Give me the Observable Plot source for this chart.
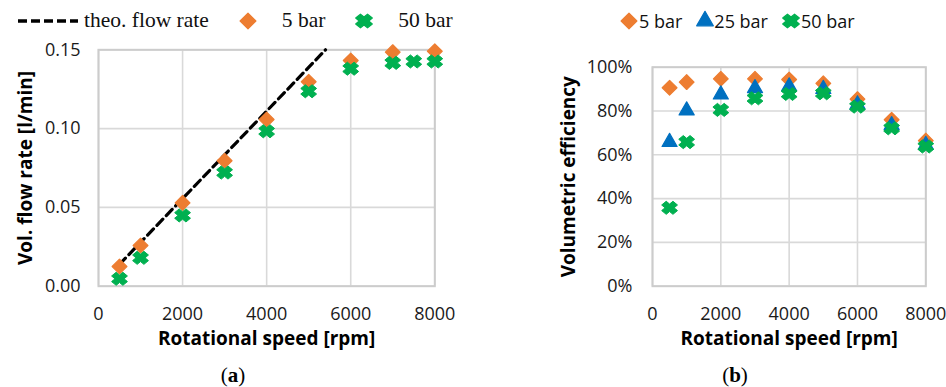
<!DOCTYPE html>
<html>
<head>
<meta charset="utf-8">
<script src="https://cdn.jsdelivr.net/npm/d3@7"></script>
<script src="https://cdn.jsdelivr.net/npm/@observablehq/plot@0.6"></script>
<style>
  html, body { margin: 0; padding: 0; background: #fff; }
  #wrap { position: relative; width: 946px; height: 387px; overflow: hidden; font-family: "Open Sans", sans-serif; }
  .panel { position: absolute; top: 0; width: 473px; height: 387px; }
  .panel svg.plot { position: absolute; left: 0; top: 0; }
  .legend { position: absolute; display: flex; align-items: center; white-space: nowrap; }
  .legend .item { display: flex; align-items: center; }
  .caption { position: absolute; font-family: "Liberation Serif", serif; font-size: 21px; transform: translateX(-50%); }
</style>
</head>
<body>
<div id="wrap">
  <div class="panel" id="pa" style="left:0"></div>
  <div class="panel" id="pb" style="left:473px"></div>
</div>
<script>
// ---------- data (a) ----------
const rpmA5   = [500, 1000, 2000, 3000, 4000, 5000, 6000, 7000, 8000];
const flowA5  = [0.0125, 0.0258, 0.0529, 0.0796, 0.1058, 0.1297, 0.1432, 0.1485, 0.1491];
const rpmA50  = [500, 1000, 2000, 3000, 4000, 5000, 6000, 7000, 7500, 8000];
const flowA50 = [0.0047, 0.0180, 0.0449, 0.0721, 0.0983, 0.1237, 0.1380, 0.1417, 0.1426, 0.1426];
const rpmTheo  = [500, 5400];
const flowTheo = [0.0139, 0.15];
const yTicksA  = [0, 0.05, 0.10, 0.15];
const xTicks   = [0, 2000, 4000, 6000, 8000];

// ---------- data (b) ----------
const rpmB  = [500, 1000, 2000, 3000, 4000, 5000, 6000, 7000, 8000];
const eff5  = [0.906, 0.932, 0.947, 0.947, 0.944, 0.926, 0.854, 0.760, 0.665];
const eff25 = [0.658, 0.802, 0.875, 0.904, 0.912, 0.900, 0.830, 0.735, 0.645];
const eff50 = [0.358, 0.658, 0.805, 0.858, 0.878, 0.881, 0.820, 0.721, 0.638];
const yTicksB = [0, 0.2, 0.4, 0.6, 0.8, 1.0];

const ORANGE = "#ED7D31", BLUE = "#0070C0", GREEN = "#00B050";
const GRID = "#d9d9d9";
const TICKFS = 18, TITLEFS = 19;

// custom filled "X" symbol (Excel style)
const symbolX = {
  draw(ctx, size) {
    const r = Math.sqrt(size / Math.PI);
    const a = r * 0.45, L = r * 1.12;
    const pts = [[a,-L],[a,-a],[L,-a],[L,a],[a,a],[a,L],[-a,L],[-a,a],[-L,a],[-L,-a],[-a,-a],[-a,-L]]
      .map(([x, y]) => [1.15 * (x - y) / Math.SQRT2, 0.95 * (x + y) / Math.SQRT2]);
    ctx.moveTo(pts[0][0], pts[0][1]);
    for (let i = 1; i < pts.length; i++) ctx.lineTo(pts[i][0], pts[i][1]);
    ctx.closePath();
  }
};

const toRows = (xs, ys) => xs.map((x, i) => ({x, y: ys[i]}));

// ---------- panel (a) ----------
const plotA = Plot.plot({
  width: 473, height: 350,
  marginLeft: 98, marginRight: 38.7, marginTop: 49.3, marginBottom: 64.3,
  style: {fontFamily: "'Open Sans', sans-serif", fontSize: TICKFS + "px", color: "#1a1a1a", background: "transparent", overflow: "visible"},
  x: {domain: [0, 8000], ticks: xTicks},
  y: {domain: [0, 0.15], ticks: yTicksA},
  marks: [
    Plot.gridX(xTicks, {stroke: GRID, strokeOpacity: 1, strokeWidth: 1.6}),
    Plot.gridY(yTicksA, {stroke: GRID, strokeOpacity: 1, strokeWidth: 1.6}),
    Plot.frame({stroke: "#cccccc", strokeWidth: 2}),
    Plot.axisX(xTicks, {tickSize: 0, tickPadding: 21, fontSize: TICKFS, label: null, tickFormat: d3.format("d")}),
    Plot.axisY(yTicksA, {tickSize: 0, tickPadding: 18, fontSize: TICKFS, label: null, tickFormat: d3.format(".2f")}),
    Plot.line(toRows(rpmTheo, flowTheo), {x: "x", y: "y", stroke: "#000", strokeWidth: 3.2, strokeDasharray: "8.5 5"}),
    Plot.dot(toRows(rpmA5, flowA5), {x: "x", y: "y", symbol: "square", r: 5.9, rotate: 45, fill: ORANGE, stroke: ORANGE, strokeWidth: 1.2, strokeLinejoin: "round"}),
    Plot.dot(toRows(rpmA50, flowA50), {x: "x", y: "y", symbol: symbolX, r: 6.2, fill: GREEN, stroke: GREEN, strokeWidth: 1}),
    Plot.text(["Rotational speed [rpm]"], {frameAnchor: "bottom", textAnchor: "middle", dy: 59, fontWeight: "bold", fontSize: TITLEFS, fill: "#000"}),
    Plot.text(["Vol. flow rate [l/min]"], {frameAnchor: "left", textAnchor: "middle", dx: -73, rotate: -90, fontWeight: "bold", fontSize: TITLEFS, fill: "#000"})
  ]
});
plotA.classList.add("plot");
document.getElementById("pa").appendChild(plotA);

// ---------- panel (b) ----------
const plotB = Plot.plot({
  width: 473, height: 350,
  marginLeft: 179, marginRight: 20.7, marginTop: 66.7, marginBottom: 64.3,
  style: {fontFamily: "'Open Sans', sans-serif", fontSize: TICKFS + "px", color: "#1a1a1a", background: "transparent", overflow: "visible"},
  x: {domain: [0, 8000], ticks: xTicks},
  y: {domain: [0, 1], ticks: yTicksB},
  marks: [
    Plot.gridX(xTicks, {stroke: GRID, strokeOpacity: 1, strokeWidth: 1.6}),
    Plot.gridY(yTicksB, {stroke: GRID, strokeOpacity: 1, strokeWidth: 1.6}),
    Plot.frame({stroke: "#cccccc", strokeWidth: 2}),
    Plot.axisX(xTicks, {tickSize: 0, tickPadding: 21, fontSize: TICKFS, label: null, tickFormat: d3.format("d")}),
    Plot.axisY(yTicksB, {tickSize: 0, tickPadding: 20, fontSize: TICKFS, label: null, tickFormat: d3.format(".0%")}),
    Plot.dot(toRows(rpmB, eff5), {x: "x", y: "y", symbol: "square", r: 5.9, rotate: 45, fill: ORANGE, stroke: ORANGE, strokeWidth: 1.2, strokeLinejoin: "round"}),
    Plot.dot(toRows(rpmB, eff25), {x: "x", y: "y", symbol: "triangle", r: 5.6, fill: BLUE, stroke: BLUE, strokeWidth: 1.2, strokeLinejoin: "round"}),
    Plot.dot(toRows(rpmB, eff50), {x: "x", y: "y", symbol: symbolX, r: 6.2, fill: GREEN, stroke: GREEN, strokeWidth: 1}),
    Plot.text(["Rotational speed [rpm]"], {frameAnchor: "bottom", textAnchor: "middle", dy: 59, fontWeight: "bold", fontSize: TITLEFS, fill: "#000"}),
    Plot.text(["Volumetric efficiency"], {frameAnchor: "left", textAnchor: "middle", dx: -84, rotate: -90, fontWeight: "bold", fontSize: TITLEFS, fill: "#000"})
  ]
});
plotB.classList.add("plot");
document.getElementById("pb").appendChild(plotB);

// ---------- legends (HTML) ----------
function markerSVG(kind, color, rr) {
  const s = 18;
  let path, rot = 0;
  if (kind === "diamond") { path = d3.symbol(d3.symbolSquare, Math.PI * rr * rr)(); rot = 45; }
  else if (kind === "triangle") { path = d3.symbol(d3.symbolTriangle, Math.PI * rr * rr)(); }
  else { path = d3.symbol(symbolX, Math.PI * rr * rr)(); }
  return `<svg width="${s}" height="${s}" viewBox="${-s/2} ${-s/2} ${s} ${s}" style="overflow:visible"><path d="${path}" transform="rotate(${rot})" fill="${color}" stroke="${color}" stroke-width="1.2" stroke-linejoin="round"/></svg>`;
}

// legend (a): serif
const legA = document.createElement("div");
legA.className = "legend";
legA.style.cssText = "left:17px; top:8px; font-family:'Liberation Serif', serif; font-size:21.5px; color:#111;";
legA.innerHTML =
  `<div class="item"><svg width="62" height="10"><line x1="1" y1="5" x2="61" y2="5" stroke="#000" stroke-width="3.5" stroke-dasharray="9 4"/></svg><span style="margin-left:5px">theo. flow rate</span></div>` +
  `<div class="item" style="margin-left:30px">${markerSVG("diamond", ORANGE, 6.3)}<span style="margin-left:25px">5 bar</span></div>` +
  `<div class="item" style="margin-left:30px">${markerSVG("x", GREEN, 6.5)}<span style="margin-left:25px">50 bar</span></div>`;
document.getElementById("pa").appendChild(legA);

// legend (b): sans
const legB = document.createElement("div");
legB.className = "legend";
legB.style.cssText = "left:147px; top:9px; font-family:'Open Sans', sans-serif; font-size:18px; color:#111;";
legB.innerHTML =
  `<div class="item">${markerSVG("diamond", ORANGE, 6.3)}<span style="margin-left:1px">5 bar</span></div>` +
  `<div class="item" style="margin-left:14px">${markerSVG("triangle", BLUE, 6.2)}<span style="margin-left:0px">25 bar</span></div>` +
  `<div class="item" style="margin-left:14px">${markerSVG("x", GREEN, 6.5)}<span style="margin-left:1px">50 bar</span></div>`;
document.getElementById("pb").appendChild(legB);

// captions
const capA = document.createElement("div");
capA.className = "caption";
capA.style.cssText += "left:233px; top:363px;";
capA.innerHTML = "(<b>a</b>)";
document.getElementById("pa").appendChild(capA);
const capB = document.createElement("div");
capB.className = "caption";
capB.style.cssText += "left:262px; top:363px;";
capB.innerHTML = "(<b>b</b>)";
document.getElementById("pb").appendChild(capB);
</script>
</body>
</html>
